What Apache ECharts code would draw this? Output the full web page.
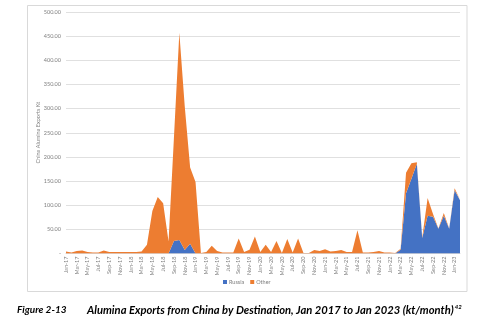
<!DOCTYPE html>
<html>
<head>
<meta charset="utf-8">
<script src="https://cdn.jsdelivr.net/npm/echarts@6/dist/echarts.min.js"></script>
<style>
html,body{margin:0;padding:0;background:#fff;}
#chart{width:482px;height:326px;}
</style>
</head>
<body>
<div id="chart"></div>
<script>
const months = [
 'Jan-17','Feb-17','Mar-17','Apr-17','May-17','Jun-17','Jul-17','Aug-17','Sep-17','Oct-17','Nov-17','Dec-17',
 'Jan-18','Feb-18','Mar-18','Apr-18','May-18','Jun-18','Jul-18','Aug-18','Sep-18','Oct-18','Nov-18','Dec-18',
 'Jan-19','Feb-19','Mar-19','Apr-19','May-19','Jun-19','Jul-19','Aug-19','Sep-19','Oct-19','Nov-19','Dec-19',
 'Jan-20','Feb-20','Mar-20','Apr-20','May-20','Jun-20','Jul-20','Aug-20','Sep-20','Oct-20','Nov-20','Dec-20',
 'Jan-21','Feb-21','Mar-21','Apr-21','May-21','Jun-21','Jul-21','Aug-21','Sep-21','Oct-21','Nov-21','Dec-21',
 'Jan-22','Feb-22','Mar-22','Apr-22','May-22','Jun-22','Jul-22','Aug-22','Sep-22','Oct-22','Nov-22','Dec-22',
 'Jan-23','Feb-23'
];
const russia = [
 0,0,0,0,0,0,0,0,0,0,0,0,
 0,0,0,0,0,0,0,0,26,28,7,20,
 0,0,0,0,0,0,0,0,0,0,0,0,
 0,0,0,0,0,0,0,0,0,0,0,0,
 0,0,0,0,0,0,0,0,0,0,0,0,
 0,0,8,125,155,186,32,78,76,51,78,51,
 131,110
];
const other = [
 4,2,5,6,3,2,2,6,3,3,3,3,
 3,3,4,18,88,117,104,25,214,429,298,158,
 148,1,3,16,5,2,2,2,31,3,8,35,
 3,18,3,26,1,30,2,31,1,1,7,5,
 9,4,5,7,3,3,48,2,2,3,5,2,
 2,1,2,42,32,3,1,37,6,1,6,1,
 4,2
];
const yTicks = [0,50,100,150,200,250,300,350,400,450,500];

const chart = echarts.init(document.getElementById('chart'), null, {renderer:'canvas'});
const fontFam = 'Lato, "Open Sans", sans-serif';
chart.setOption({
  animation:false,
  backgroundColor:'#ffffff',
  grid:{left:66, right:22, top:12, bottom:72.5, containLabel:false},
  legend:{
    data:['Russia','Other'],
    top:279, left:223,
    itemWidth:4, itemHeight:4, itemGap:6,
    icon:'rect',
    textStyle:{fontSize:5.5, color:'#7f7f7f', fontFamily:fontFam, padding:[0,0,0,-3]},
    padding:0
  },
  xAxis:{
    type:'category',
    data:months,
    boundaryGap:false,
    axisLine:{show:true, lineStyle:{color:'#d9d9d9', width:1}},
    axisTick:{show:false},
    axisLabel:{interval:1, rotate:90, fontSize:5.5, color:'#7f7f7f', fontFamily:fontFam, margin:3}
  },
  yAxis:{
    type:'value',
    min:yTicks[0], max:yTicks[yTicks.length-1], interval:50,
    name:'China Alumina Exports Kt',
    nameLocation:'middle',
    nameGap:25,
    nameMoveOverlap:false,
    nameTextStyle:{fontSize:5.5, color:'#7f7f7f', fontFamily:fontFam},
    axisLine:{show:false},
    axisTick:{show:false},
    splitLine:{lineStyle:{color:'#e0e0e0', width:1}},
    axisLabel:{fontSize:5.5, color:'#7f7f7f', fontFamily:fontFam, margin:5,
      formatter:function(v){ return v===0 ? '-' : v.toFixed(2); }}
  },
  series:[
    {name:'Russia', type:'line', stack:'total', data:russia, showSymbol:false, symbol:'none',
     lineStyle:{width:0}, itemStyle:{color:'#4472C4'}, areaStyle:{color:'#4472C4', opacity:1}},
    {name:'Other', type:'line', stack:'total', data:other, showSymbol:false, symbol:'none',
     lineStyle:{width:0}, itemStyle:{color:'#ED7D31'}, areaStyle:{color:'#ED7D31', opacity:1}}
  ],
  graphic:[
    {type:'rect', shape:{x:27.5, y:5.5, width:439.5, height:286}, style:{fill:null, stroke:'#d9d9d9', lineWidth:1}, silent:true, z:-1},
    {type:'text', left:17, top:305, style:{text:'Figure 2-13', fontSize:10, fontWeight:'bold', fontStyle:'italic', fontFamily:fontFam, fill:'#000'}},
    {type:'text', left:87, top:304.5, style:{
      text:'Alumina Exports from China by Destination, Jan 2017 to Jan 2023 (kt/month){sup|42}',
      fontSize:11.2, fontWeight:'bold', fontStyle:'italic', fontFamily:fontFam, fill:'#000',
      rich:{sup:{fontSize:6, fontWeight:'bold', fontStyle:'italic', fontFamily:fontFam, verticalAlign:'top', padding:[0,0,6,1]}}
    }}
  ]
});
</script>
</body>
</html>
